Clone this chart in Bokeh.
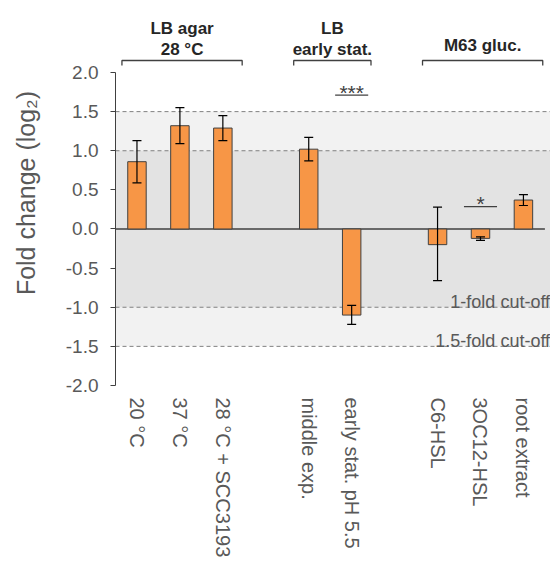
from bokeh.plotting import figure
from bokeh.models import (Range1d, FixedTicker, PrintfTickFormatter, BoxAnnotation,
                          Span, Whisker, ColumnDataSource, TeeHead)
from bokeh.core.properties import value
from bokeh.embed import file_html
from bokeh.resources import INLINE

# ---- data ----
categories = ["20 °C", "37 °C", "28 °C + SCC3193", "middle exp.",
              "early stat. pH 5.5", "C6-HSL", "3OC12-HSL", "root extract"]
group_of = [0, 0, 0, 1, 1, 2, 2, 2]
group_titles = [["LB agar", "28 °C"], ["LB", "early stat."], ["M63 gluc."]]
values = [0.86, 1.32, 1.29, 1.02, -1.10, -0.20, -0.12, 0.37]
err_low = [0.59, 1.09, 1.13, 0.87, -1.22, -0.66, -0.145, 0.30]
err_high = [1.13, 1.55, 1.45, 1.17, -0.975, 0.28, -0.10, 0.44]
significance = ["", "", "", "", "***", "", "*", ""]
sig_line_y = [None, None, None, None, 1.71, None, 0.287, None]
y_ticks = [-2.0, -1.5, -1.0, -0.5, 0.0, 0.5, 1.0, 1.5, 2.0]
cutoffs = [1.0, 1.5]
cutoff_labels = ["1-fold cut-off", "1.5-fold cut-off"]

FONT = "Liberation Sans"
TXT = "#595959"
DARK = "#404040"

n = len(categories)
pos = [i + group_of[i] for i in range(n)]

W, H = 550, 562
LEFT, BOTTOM = 115, 177
spacing = 42.94
x_end = -0.5 + (W - LEFT) / spacing
y_top = 2.92

p = figure(width=W, height=H, x_range=Range1d(-0.5, x_end), y_range=Range1d(-2.0, y_top),
           output_backend="svg", toolbar_location=None,
           min_border_left=LEFT, min_border_right=0, min_border_top=0,
           min_border_bottom=BOTTOM)
p.outline_line_color = None
p.grid.visible = False
p.background_fill_color = "white"

# shaded bands
p.add_layout(BoxAnnotation(left=-0.5, bottom=-cutoffs[1], top=cutoffs[1],
                           fill_color="#F2F2F2", fill_alpha=1, line_color=None,
                           level="underlay"))
p.add_layout(BoxAnnotation(left=-0.5, bottom=-cutoffs[0], top=cutoffs[0],
                           fill_color="#E3E3E3", fill_alpha=1, line_color=None,
                           level="underlay"))
for c in cutoffs:
    for s in (1, -1):
        p.add_layout(Span(location=s * c, dimension="width", line_color="#808080",
                          line_dash="4 3", line_width=1, level="underlay"))

# zero line
p.segment(x0=[-0.5], y0=[0], x1=[pos[-1] + 0.5], y1=[0], line_color=DARK, line_width=1.3)

# bars
src = ColumnDataSource(dict(x=pos, top=values, lo=err_low, hi=err_high))
p.vbar(x="x", top="top", bottom=0, width=0.43, source=src,
       fill_color="#F79646", line_color=DARK, line_width=1)

wh = Whisker(base="x", upper="hi", lower="lo", source=src, dimension="height",
             line_color="black", line_width=1.2, level="annotation",
             upper_head=TeeHead(size=9, line_color="black", line_width=1.2),
             lower_head=TeeHead(size=9, line_color="black", line_width=1.2))
p.add_layout(wh)

# significance
for i in range(n):
    if significance[i]:
        yl = sig_line_y[i]
        p.segment(x0=[pos[i] - 0.385], y0=[yl], x1=[pos[i] + 0.385], y1=[yl],
                  line_color=DARK, line_width=1.3)
        p.text(x=[pos[i]], y=[yl + 0.035], text=[significance[i]],
               text_font=value(FONT), text_font_size="21px", text_color=DARK,
               text_align="center", text_baseline="alphabetic")

# group brackets and titles
for g, title in enumerate(group_titles):
    members = [pos[i] for i in range(n) if group_of[i] == g]
    x0 = members[0] - 0.35
    x1 = members[-1] + 0.45
    p.line(x=[x0, x0, x1, x1], y=[2.089, 2.153, 2.153, 2.089],
           line_color=DARK, line_width=1.3)
    xc = (x0 + x1) / 2
    base = 2.294 if len(title) > 1 else 2.34
    for k, line in enumerate(reversed(title)):
        p.text(x=[xc], y=[base + 0.268 * k], text=[line],
               text_font=value(FONT), text_font_size="17px", text_font_style="bold",
               text_color="#262626", text_align="center", text_baseline="alphabetic")

# cut-off labels
for c, lab in zip(cutoffs, cutoff_labels):
    p.text(x=[x_end - 0.01], y=[-c + 0.065], text=[lab],
           text_font=value(FONT), text_font_size="18px", text_color=TXT,
           text_align="right", text_baseline="alphabetic")

# y axis
ya = p.yaxis[0]
ya.bounds = (-2, 2)
ya.ticker = FixedTicker(ticks=y_ticks)
ya.formatter = PrintfTickFormatter(format="%.1f")
ya.minor_tick_line_color = None
ya.major_tick_in = 0
ya.major_tick_out = 5
ya.axis_line_color = DARK
ya.major_tick_line_color = DARK
ya.major_label_text_font = FONT
ya.major_label_text_font_size = "19px"
ya.major_label_text_color = TXT
ya.major_label_standoff = 12
ya.axis_label = "Fold change (log₂)"
ya.axis_label_text_font = FONT
ya.axis_label_text_font_size = "25px"
ya.axis_label_text_font_style = "normal"
ya.axis_label_text_color = TXT
ya.axis_label_standoff = 23

# x axis
xa = p.xaxis[0]
xa.ticker = FixedTicker(ticks=pos)
xa.major_label_overrides = {pos[i]: categories[i] for i in range(n)}
xa.major_label_orientation = "vertical"
xa.axis_line_color = None
xa.major_tick_line_color = None
xa.minor_tick_line_color = None
xa.major_tick_in = 0
xa.major_tick_out = 0
xa.major_label_standoff = 12
xa.major_label_text_font = FONT
xa.major_label_text_font_size = "20px"
xa.major_label_text_color = TXT

open("out.html", "w").write(file_html(p, INLINE))
